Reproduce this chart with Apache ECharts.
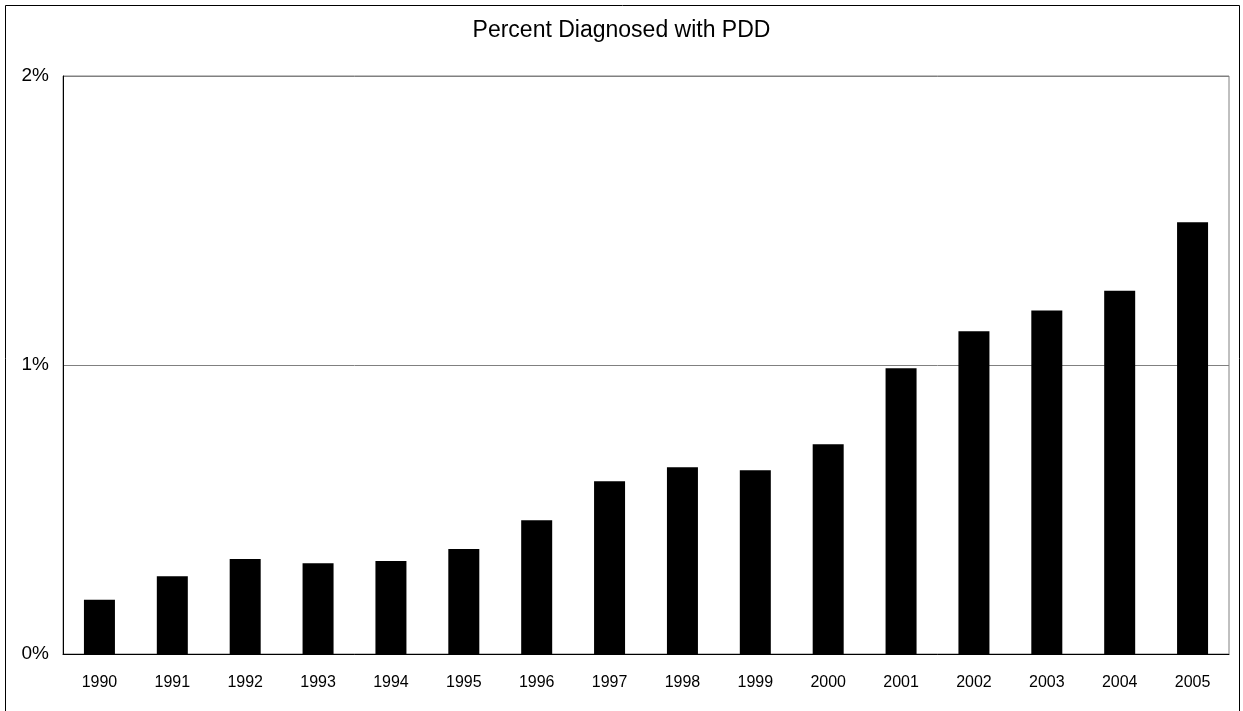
<!DOCTYPE html>
<html>
<head>
<meta charset="utf-8">
<script src="https://cdn.jsdelivr.net/npm/echarts@6/dist/echarts.min.js"></script>
<style>
html,body{margin:0;padding:0;background:#fff;}
#chart{width:1243px;height:711px;}
</style>
</head>
<body>
<div id="chart"></div>
<script>
const titleText = "Percent Diagnosed with PDD";
const years = ["1990","1991","1992","1993","1994","1995","1996","1997","1998","1999","2000","2001","2002","2003","2004","2005"];
const percentDiagnosed = [0.188,0.269,0.329,0.314,0.322,0.363,0.463,0.598,0.646,0.636,0.726,0.989,1.117,1.189,1.257,1.494];
const yTicks = [0, 1, 2];

const chart = echarts.init(document.getElementById('chart'), null, {renderer:'canvas'});
const fontFamily = '"Liberation Sans", Arial, sans-serif';
chart.setOption({
  animation: false,
  backgroundColor: '#fff',
  title: {
    text: titleText,
    left: 'center',
    top: 14,
    textStyle: {fontFamily: fontFamily, fontSize: 23, fontWeight: 'normal', color: '#000'}
  },
  graphic: [{
    type: 'rect',
    shape: {x: 5.5, y: 5.5, width: 1234, height: 710},
    style: {fill: 'none', stroke: '#000', lineWidth: 1},
    silent: true
  }],
  grid: {
    left: 63, right: 14, top: 76, bottom: 57,
    show: true, borderColor: '#808080', borderWidth: 1
  },
  xAxis: {
    type: 'category',
    data: years,
    axisLine: {show: true, lineStyle: {color: '#000', width: 1}},
    axisTick: {show: false},
    axisLabel: {fontFamily: fontFamily, fontSize: 16, color: '#000', margin: 21, interval: 0}
  },
  yAxis: {
    type: 'value',
    min: yTicks[0],
    max: yTicks[yTicks.length - 1],
    interval: 1,
    axisLine: {show: true, lineStyle: {color: '#000', width: 1}},
    axisTick: {show: false},
    splitLine: {show: true, lineStyle: {color: '#808080', width: 1}},
    axisLabel: {fontFamily: fontFamily, fontSize: 19, color: '#000', margin: 14, formatter: '{value}%'}
  },
  series: [{
    type: 'bar',
    data: percentDiagnosed,
    barWidth: 31,
    itemStyle: {color: '#000'}
  }]
});
</script>
</body>
</html>
